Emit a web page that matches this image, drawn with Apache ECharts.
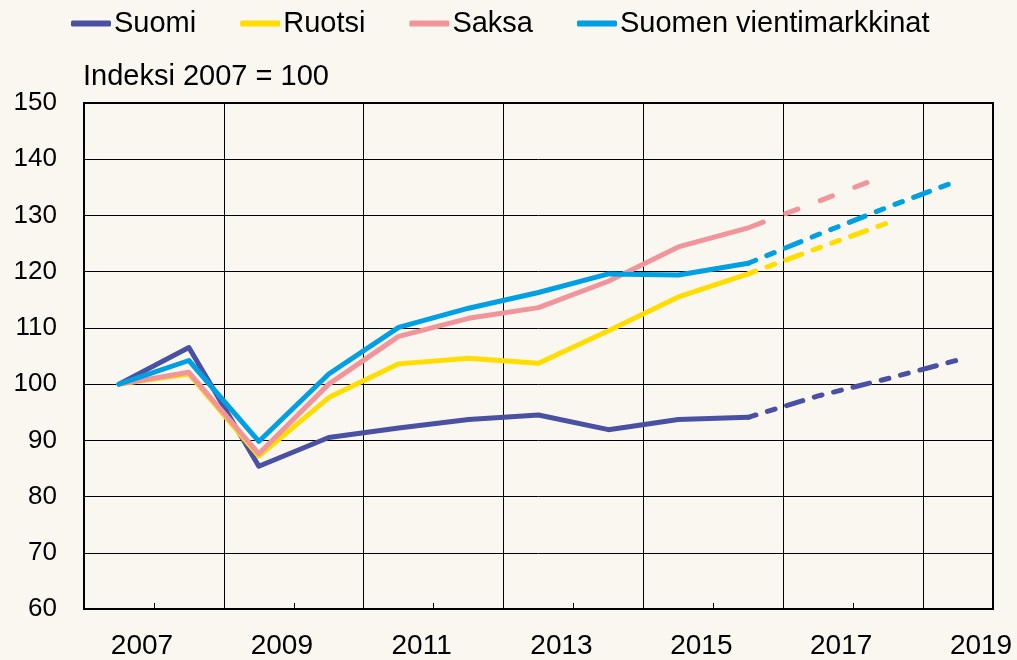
<!DOCTYPE html>
<html>
<head>
<meta charset="utf-8">
<script src="https://cdn.jsdelivr.net/npm/echarts@6/dist/echarts.min.js"></script>
<style>
  html, body { margin: 0; padding: 0; background: #faf6f0; }
  #chart { width: 1017px; height: 660px; }
</style>
</head>
<body>
<div id="chart"></div>
<script>
// vuodet (kategoriat)
var years = ["2007", "2008", "2009", "2010", "2011", "2012", "2013",
             "2014", "2015", "2016", "2017", "2018", "2019"];

// toteutunut, indeksi 2007 = 100
var suomi   = [100, 106.5, 85.4, 90.5, 92.2, 93.7, 94.5, 91.9, 93.7, 94.1, null, null, null];
var ruotsi  = [100, 101.8, 87.2, 97.6, 103.6, 104.6, 103.7, 109.5, 115.5, 119.6, null, null, null];
var saksa   = [100, 102.1, 87.6, 100.0, 108.5, 111.7, 113.6, 118.3, 124.4, 127.8, null, null, null];
var vienti  = [100, 104.2, 89.8, 101.8, 110.1, 113.5, 116.3, 119.6, 119.4, 121.5, null, null, null];

// ennuste (katkoviiva)
var suomiEnn  = [null, null, null, null, null, null, null, null, null, 94.1, 97.9, 101.0, 104.3];
var ruotsiEnn = [null, null, null, null, null, null, null, null, null, 119.6, 124.2, 128.7, null];
var saksaEnn  = [null, null, null, null, null, null, null, null, null, 127.8, 132.5, 137.3, null];
var vientiEnn = [null, null, null, null, null, null, null, null, null, 121.5, 126.6, 131.5, 136.2];

var FONT = "Liberation Sans, Arial, sans-serif";
var colors = {
  suomi: "#4a51a3",
  ruotsi: "#ffdd00",
  saksa: "#f1959b",
  vienti: "#00a0e3"
};

function solid(name, data, color) {
  return {
    name: name,
    type: "line",
    data: data,
    color: color,
    symbol: "none",
    itemStyle: { color: color },
    lineStyle: { width: 5, color: color, cap: "round", join: "round" }
  };
}

function dashed(name, data, color, dash, offset) {
  return {
    name: name,
    type: "line",
    data: data,
    color: color,
    symbol: "none",
    lineStyle: {
      width: 5, color: color, type: dash, dashOffset: offset || 0,
      cap: "round", join: "round"
    }
  };
}

var chart = echarts.init(document.getElementById("chart"));

chart.setOption({
  backgroundColor: "#faf6f0",
  animation: false,
  textStyle: { fontFamily: FONT },
  title: {
    text: "Indeksi 2007 = 100",
    left: 83,
    top: 62,
    padding: 0,
    textStyle: { fontSize: 29, fontWeight: "normal", color: "#000", fontFamily: FONT }
  },
  legend: {
    data: ["Suomi", "Ruotsi", "Saksa", "Suomen vientimarkkinat"],
    left: 71,
    top: 9,
    padding: 0,
    icon: "roundRect",
    itemWidth: 40,
    itemHeight: 6,
    itemGap: 44,
    textStyle: { fontSize: 29, color: "#000", fontFamily: FONT, padding: [0, 0, 0, -2] }
  },
  grid: {
    left: 84,
    right: 24,
    top: 103,
    bottom: 49,
    show: true,
    borderColor: "#000",
    borderWidth: 2,
    backgroundColor: "transparent"
  },
  xAxis: {
    type: "category",
    data: years,
    boundaryGap: true,
    axisLine: { show: false },
    axisTick: {
      show: true,
      inside: true,
      length: 6,
      interval: function (i) { return i % 2 === 1; },
      lineStyle: { color: "#000", width: 1 }
    },
    axisLabel: {
      interval: function (i) { return i % 2 === 0; },
      fontSize: 28,
      color: "#000",
      fontFamily: FONT,
      margin: 23,
      padding: [0, 0, 0, 46]
    },
    splitLine: {
      show: true,
      interval: function (i) { return i % 2 === 0; },
      lineStyle: { color: "#000", width: 1 }
    }
  },
  yAxis: {
    type: "value",
    min: 60,
    max: 150,
    interval: 10,
    axisLine: { show: false },
    axisTick: { show: false },
    axisLabel: { fontSize: 26, color: "#000", fontFamily: FONT, margin: 27 },
    splitLine: { show: true, lineStyle: { color: "#000", width: 1 } }
  },
  series: [
    solid("Suomi", suomi, colors.suomi),
    solid("Ruotsi", ruotsi, colors.ruotsi),
    solid("Saksa", saksa, colors.saksa),
    solid("Suomen vientimarkkinat", vienti, colors.vienti),
    dashed("Suomi ennuste", suomiEnn, colors.suomi, [8, 12, 8, 12, 17, 12]),
    dashed("Ruotsi ennuste", ruotsiEnn, colors.ruotsi, [8, 12, 8, 12, 17, 12]),
    dashed("Saksa ennuste", saksaEnn, colors.saksa, [13, 24], -3),
    dashed("Suomen vientimarkkinat ennuste", vientiEnn, colors.vienti, [8, 12, 8, 12, 17, 12])
  ]
});

window.onresize = function () { chart.resize(); };
</script>
</body>
</html>
